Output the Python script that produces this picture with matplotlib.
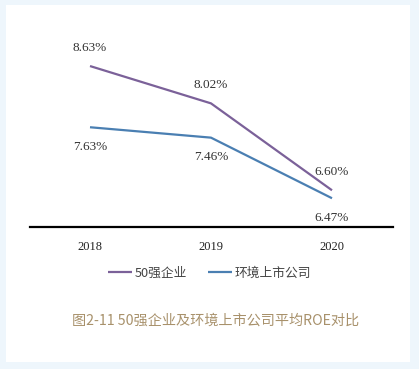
import matplotlib
matplotlib.use("Agg")
import matplotlib.pyplot as plt
from matplotlib.patches import Rectangle

years = ["2018", "2019", "2020"]
top50 = [8.63, 8.02, 6.60]
listed = [7.63, 7.46, 6.47]
series_names = ["50强企业", "环境上市公司"]
caption = "图2-11 50强企业及环境上市公司平均ROE对比"

W, H = 419, 369
fig = plt.figure(figsize=(W / 100, H / 100), dpi=100)
fig.patch.set_facecolor("#eef6fc")
fig.patches.append(Rectangle((6 / W, 1 - 362 / H), (410 - 6) / W, (362 - 5) / H,
                             transform=fig.transFigure, facecolor="white",
                             edgecolor="none", zorder=-5))

ax = fig.add_axes([29.5 / W, 1 - 227 / H, 363 / W, (227 - 43.4) / H])
ax.set_zorder(2)
ax.set_facecolor("none")
x = list(range(len(years)))
purple = "#7b6199"
blue = "#4a7fb2"
l1, = ax.plot(x, top50, color=purple, lw=1.6, solid_capstyle="butt")
l2, = ax.plot(x, listed, color=blue, lw=1.6, solid_capstyle="butt")
ax.set_xlim(-0.5, 2.5)
ax.set_ylim(6.0, 9.0)
for s in ["top", "right", "left"]:
    ax.spines[s].set_visible(False)
ax.spines["bottom"].set_linewidth(1.6)
ax.spines["bottom"].set_color("black")
ax.set_yticks([])
ax.set_xticks(x)
ax.set_xticklabels(years, fontfamily="Liberation Serif", fontsize=9, color="#222222")
ax.tick_params(axis="x", length=0, pad=10)

serif = "Liberation Serif"
for xi, v in zip(x, top50):
    ax.annotate(f"{v:.2f}%", (xi, v), xytext=(0, 13), textcoords="offset points",
                ha="center", va="center", fontfamily=serif, fontsize=9.5, color="#333333")
for xi, v in zip(x, listed):
    ax.annotate(f"{v:.2f}%", (xi, v), xytext=(0, -14), textcoords="offset points",
                ha="center", va="center", fontfamily=serif, fontsize=9.5, color="#333333")

leg = fig.legend([l1, l2], series_names, loc="center", bbox_to_anchor=(0.5, 1 - 273 / H),
                 ncol=2, frameon=False, handlelength=1.9, handletextpad=0.2,
                 columnspacing=1.6,
                 prop={"family": ["Noto Sans CJK SC", "DejaVu Sans"], "size": 9.2})
for t in leg.get_texts():
    t.set_color("#444444")

fig.text(216 / W, 1 - 321 / H, caption, ha="center", va="center",
         fontsize=10.2, color="#a8916b",
         family=["Noto Sans CJK SC", "DejaVu Sans"])

fig.savefig("out.png", dpi=100)
